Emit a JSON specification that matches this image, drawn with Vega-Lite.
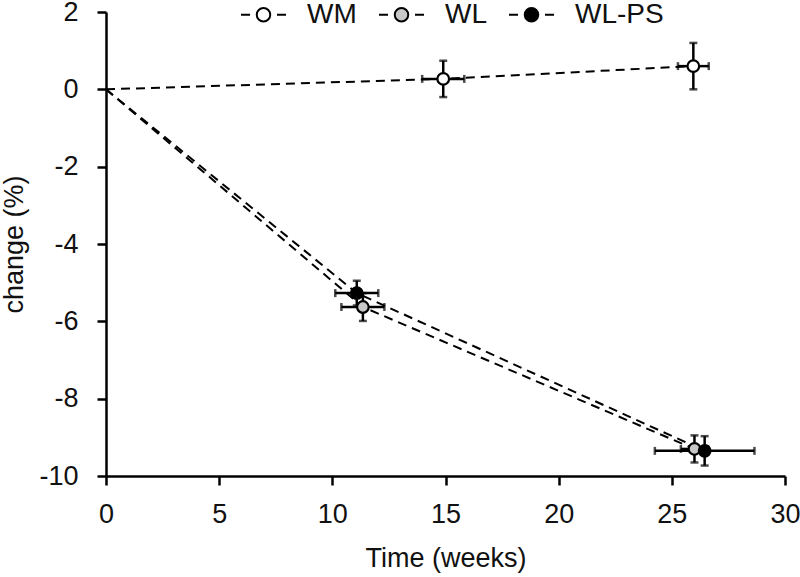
{
  "$schema": "https://vega.github.io/schema/vega-lite/v6.json",
  "width": 679,
  "height": 464,
  "autosize": {"type": "none"},
  "padding": {"left": 106, "top": 12, "right": 15, "bottom": 101},
  "background": "white",
  "config": {
    "view": {"stroke": null},
    "font": "Liberation Sans",
    "axis": {
      "grid": false,
      "domainColor": "black",
      "domainWidth": 2.5,
      "tickColor": "black",
      "tickWidth": 2.5,
      "tickSize": 9,
      "labelFontSize": 27,
      "labelColor": "#111",
      "labelFlush": false,
      "labelOverlap": false,
      "titleFontSize": 27,
      "titleFontWeight": "normal",
      "titleColor": "#111",
      "labelFont": "Liberation Sans",
      "titleFont": "Liberation Sans"
    }
  },
  "data": {
    "values": [
      {"group": "WM", "t": 0, "c": 0, "tlo": null, "thi": null, "clo": null, "chi": null},
      {"group": "WM", "t": 14.9, "c": 0.27, "tlo": 13.97, "thi": 15.83, "clo": -0.2, "chi": 0.74},
      {"group": "WM", "t": 25.95, "c": 0.6, "tlo": 25.27, "thi": 26.63, "clo": 0.0, "chi": 1.2},
      {"group": "WL", "t": 0, "c": 0, "tlo": null, "thi": null, "clo": null, "chi": null},
      {"group": "WL", "t": 11.35, "c": -5.63, "tlo": 10.4, "thi": 12.3, "clo": -5.99, "chi": -5.27},
      {"group": "WL", "t": 26.0, "c": -9.3, "tlo": 25.4, "thi": 26.6, "clo": -9.65, "chi": -8.95},
      {"group": "WL-PS", "t": 0, "c": 0, "tlo": null, "thi": null, "clo": null, "chi": null},
      {"group": "WL-PS", "t": 11.08, "c": -5.27, "tlo": 10.13, "thi": 12.03, "clo": -5.59, "chi": -4.95},
      {"group": "WL-PS", "t": 26.45, "c": -9.35, "tlo": 24.25, "thi": 28.65, "clo": -9.73, "chi": -8.97}
    ]
  },
  "layer": [
    {
      "mark": {"type": "line", "color": "black", "strokeWidth": 2, "strokeDash": [9, 6]},
      "encoding": {
        "x": {"field": "t", "type": "quantitative", "scale": {"domain": [0, 30]},
          "axis": {"title": "Time (weeks)", "values": [0, 5, 10, 15, 20, 25, 30], "labelPadding": 16, "titlePadding": 18, "labelExpr": "'' + datum.value"}},
        "y": {"field": "c", "type": "quantitative", "scale": {"domain": [-10, 2]},
          "axis": {"title": "change (%)", "values": [-10, -8, -6, -4, -2, 0, 2], "labelPadding": 19, "titlePadding": 10, "labelExpr": "'' + datum.value"}},
        "detail": {"field": "group"},
        "order": {"field": "t"}
      }
    },
    {
      "transform": [{"filter": "datum.t > 0"}],
      "layer": [
        {"mark": {"type": "rule", "color": "black", "strokeWidth": 2.5},
         "encoding": {"x": {"field": "tlo", "type": "quantitative"}, "x2": {"field": "thi"}, "y": {"field": "c", "type": "quantitative"}}},
        {"mark": {"type": "rule", "color": "black", "strokeWidth": 2.5},
         "encoding": {"y": {"field": "clo", "type": "quantitative"}, "y2": {"field": "chi"}, "x": {"field": "t", "type": "quantitative"}}},
        {"mark": {"type": "tick", "color": "black", "thickness": 2.5, "size": 8, "orient": "vertical"},
         "encoding": {"x": {"field": "tlo", "type": "quantitative"}, "y": {"field": "c", "type": "quantitative"}}},
        {"mark": {"type": "tick", "color": "black", "thickness": 2.5, "size": 8, "orient": "vertical"},
         "encoding": {"x": {"field": "thi", "type": "quantitative"}, "y": {"field": "c", "type": "quantitative"}}},
        {"mark": {"type": "tick", "color": "black", "thickness": 2.5, "size": 8, "orient": "horizontal"},
         "encoding": {"y": {"field": "clo", "type": "quantitative"}, "x": {"field": "t", "type": "quantitative"}}},
        {"mark": {"type": "tick", "color": "black", "thickness": 2.5, "size": 8, "orient": "horizontal"},
         "encoding": {"y": {"field": "chi", "type": "quantitative"}, "x": {"field": "t", "type": "quantitative"}}},
        {"mark": {"type": "point", "shape": "circle", "filled": true, "size": 135, "stroke": "black", "strokeWidth": 2.2, "opacity": 1},
         "encoding": {
           "x": {"field": "t", "type": "quantitative"},
           "y": {"field": "c", "type": "quantitative"},
           "fill": {"field": "group", "type": "nominal",
             "scale": {"domain": ["WM", "WL", "WL-PS"], "range": ["white", "#c8c8c8", "black"]},
             "legend": {
               "title": null,
               "orient": "none",
               "legendX": 134,
               "legendY": -21,
               "direction": "horizontal",
               "padding": 0,
               "columnPadding": 18,
               "labelOffset": 20,
               "labelFontSize": 28,
               "labelFont": "Liberation Sans",
               "labelColor": "#111",
               "symbolType": "M-1,0L-0.6,0M0.6,0L1,0M-0.3,0A0.3,0.3,0,1,0,0.3,0A0.3,0.3,0,1,0,-0.3,0Z",
               "symbolSize": 2025,
               "symbolStrokeColor": "black",
               "symbolStrokeWidth": 2,
               "symbolOpacity": 1
             }
           },
           "order": {"field": "group"}
         }}
      ]
    }
  ]
}
